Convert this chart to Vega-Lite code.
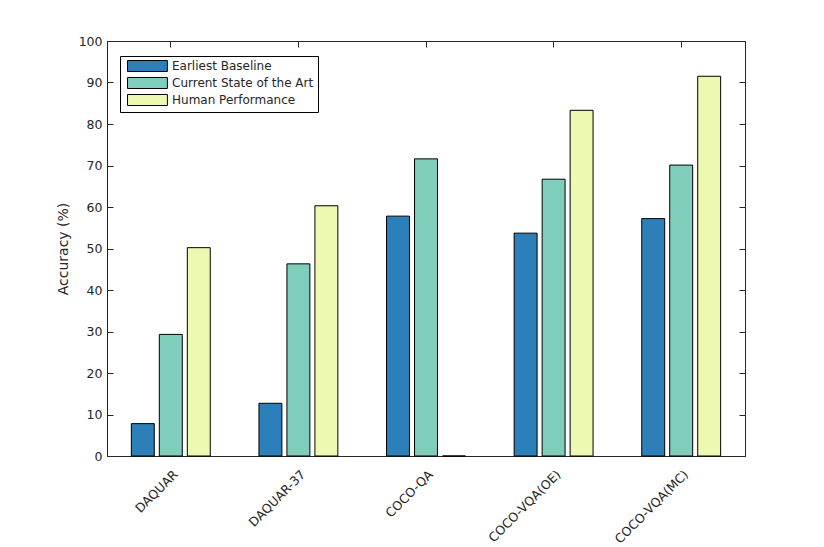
{
  "$schema": "https://vega.github.io/schema/vega-lite/v6.json",
  "width": 638,
  "height": 415,
  "autosize": "none",
  "padding": {"left": 107, "top": 41, "right": 79, "bottom": 91},
  "background": "white",
  "config": {
    "font": "DejaVu Sans",
    "view": {"stroke": "#262626", "strokeWidth": 1},
    "axis": {
      "domainColor": "#262626",
      "tickColor": "#262626",
      "labelColor": "#262626",
      "titleColor": "#262626",
      "labelFont": "DejaVu Sans",
      "titleFont": "DejaVu Sans",
      "labelFontSize": 12.5,
      "grid": false
    }
  },
  "data": {
    "values": [
      {"dataset": "DAQUAR", "method": "Earliest Baseline", "accuracy": 7.8},
      {"dataset": "DAQUAR", "method": "Current State of the Art", "accuracy": 29.3},
      {"dataset": "DAQUAR", "method": "Human Performance", "accuracy": 50.2},
      {"dataset": "DAQUAR-37", "method": "Earliest Baseline", "accuracy": 12.7},
      {"dataset": "DAQUAR-37", "method": "Current State of the Art", "accuracy": 46.3},
      {"dataset": "DAQUAR-37", "method": "Human Performance", "accuracy": 60.3},
      {"dataset": "COCO-QA", "method": "Earliest Baseline", "accuracy": 57.8},
      {"dataset": "COCO-QA", "method": "Current State of the Art", "accuracy": 71.6},
      {"dataset": "COCO-QA", "method": "Human Performance", "accuracy": 0},
      {"dataset": "COCO-VQA(OE)", "method": "Earliest Baseline", "accuracy": 53.7},
      {"dataset": "COCO-VQA(OE)", "method": "Current State of the Art", "accuracy": 66.7},
      {"dataset": "COCO-VQA(OE)", "method": "Human Performance", "accuracy": 83.3},
      {"dataset": "COCO-VQA(MC)", "method": "Earliest Baseline", "accuracy": 57.2},
      {"dataset": "COCO-VQA(MC)", "method": "Current State of the Art", "accuracy": 70.1},
      {"dataset": "COCO-VQA(MC)", "method": "Human Performance", "accuracy": 91.5}
    ]
  },
  "resolve": {"axis": {"x": "independent", "y": "independent"}},
  "layer": [
    {
      "mark": {"type": "bar", "stroke": "black", "strokeWidth": 1},
      "encoding": {
        "x": {
          "field": "dataset",
          "type": "nominal",
          "sort": null,
          "scale": {"paddingInner": 0, "paddingOuter": 0},
          "axis": {
            "title": null,
            "orient": "bottom",
            "labelAngle": -45,
            "labelAlign": "right",
            "labelBaseline": "middle",
            "ticks": false,
            "labelPadding": 16,
            "labelOffset": 5
          }
        },
        "xOffset": {
          "field": "method",
          "type": "nominal",
          "sort": ["Earliest Baseline", "Current State of the Art", "Human Performance"],
          "scale": {"paddingInner": 0.18, "paddingOuter": 0.87}
        },
        "y": {
          "field": "accuracy",
          "type": "quantitative",
          "scale": {"domain": [0, 100], "nice": false},
          "axis": {
            "title": "Accuracy (%)",
            "titleFontSize": 14,
            "titleFontWeight": "normal",
            "titlePadding": 8,
            "values": [0, 10, 20, 30, 40, 50, 60, 70, 80, 90, 100],
            "ticks": false,
            "labelPadding": 5
          }
        },
        "color": {
          "field": "method",
          "type": "nominal",
          "sort": ["Earliest Baseline", "Current State of the Art", "Human Performance"],
          "scale": {
            "domain": ["Earliest Baseline", "Current State of the Art", "Human Performance"],
            "range": ["#2c7fb8", "#7fcdbb", "#edf8b1"]
          },
          "legend": {
            "title": null,
            "orient": "none",
            "legendX": 13,
            "legendY": 15,
            "direction": "vertical",
            "fillColor": "white",
            "strokeColor": "black",
            "padding": 4,
            "rowPadding": 1,
            "symbolType": "M-0.45,-1H6.8V1H-0.45Z",
            "symbolSize": 121,
            "symbolStrokeColor": "black",
            "symbolStrokeWidth": 1,
            "symbolOpacity": 1,
            "labelFont": "DejaVu Sans",
            "labelFontSize": 12,
            "labelColor": "#262626",
            "labelOffset": 36
          }
        }
      }
    },
    {
      "mark": {"type": "bar", "opacity": 0},
      "encoding": {
        "x": {
          "field": "dataset",
          "type": "nominal",
          "sort": null,
          "axis": {"orient": "top", "offset": -415, "title": null, "labels": false, "domain": false, "tickSize": 6}
        },
        "y": {
          "field": "accuracy",
          "type": "quantitative",
          "axis": {
            "orient": "right",
            "offset": -638,
            "title": null,
            "labels": false,
            "domain": false,
            "tickSize": 6,
            "values": [0, 10, 20, 30, 40, 50, 60, 70, 80, 90, 100]
          }
        }
      }
    },
    {
      "mark": {"type": "bar", "opacity": 0},
      "encoding": {
        "x": {
          "field": "dataset",
          "type": "nominal",
          "sort": null,
          "axis": {"orient": "bottom", "offset": -415, "title": null, "labels": false, "domain": false, "tickSize": 6}
        },
        "y": {
          "field": "accuracy",
          "type": "quantitative",
          "axis": {
            "orient": "left",
            "offset": -638,
            "title": null,
            "labels": false,
            "domain": false,
            "tickSize": 6,
            "values": [0, 10, 20, 30, 40, 50, 60, 70, 80, 90, 100]
          }
        }
      }
    }
  ]
}
